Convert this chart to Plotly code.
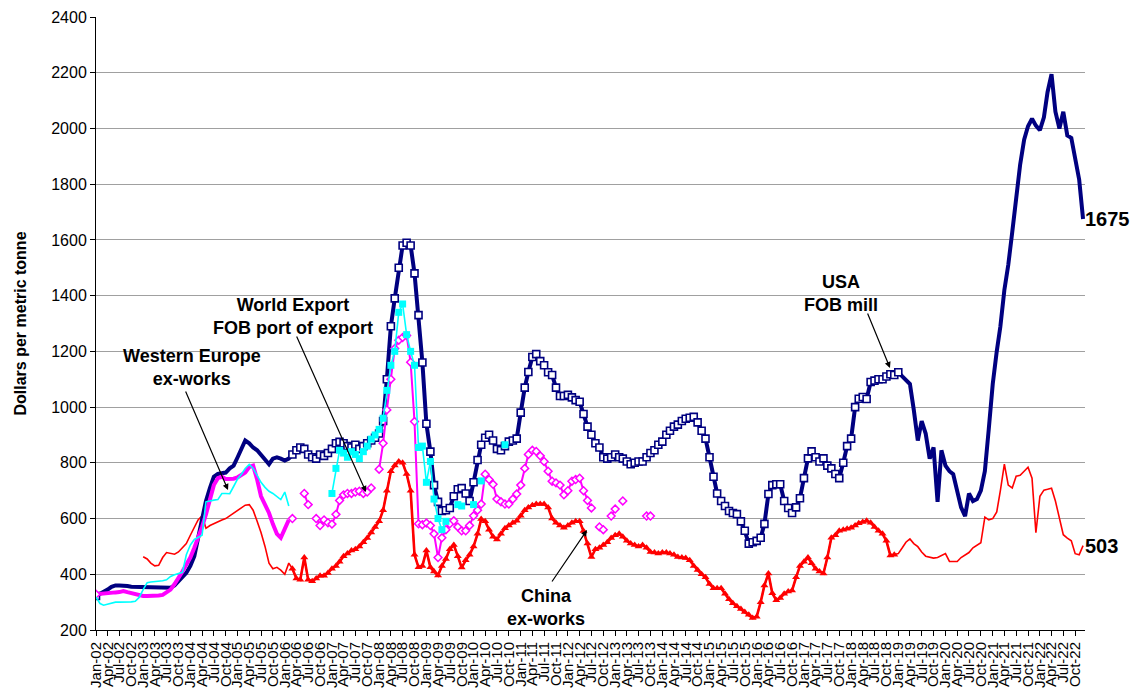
import pandas as pd
import plotly.graph_objects as go

# ---------------- data (monthly, Jan-2002 .. Dec-2022) ----------------
months = pd.date_range("2002-01-01", periods=252, freq="MS")

usa = [
    322, 330, 335, 345, 355, 360, 360, 360, 358, 355, 355, 355,      # 2002
    355, 355, 355, 355, 355, 355, 355, 352, 360, 375, 390, 405,      # 2003
    430, 465, 530, 600, 663, 710, 750, 760, 762, 765, 780, 790,      # 2004
    820, 850, 880, 870, 855, 845, 830, 810, 795, 815, 820, 815,      # 2005
    808, 815, 830, 845, 855, 850, 830, 820, 815, 830, 825, 835,      # 2006
    850, 870, 875, 870, 860, 855, 865, 850, 860, 870, 880, 890,      # 2007
    905, 950, 1100, 1290, 1390, 1500, 1580, 1590, 1580, 1480, 1330, 1160,  # 2008
    940, 840, 720, 660, 627, 630, 638, 680, 705, 709, 690, 663,      # 2009
    730, 810, 865, 890, 901, 880, 850, 845, 860, 876, 880, 887,      # 2010
    980, 1070, 1126, 1180, 1190, 1165, 1150, 1125, 1115, 1070, 1040, 1040,  # 2011
    1044, 1035, 1025, 1019, 975, 930, 901, 870, 855, 820, 815, 820,  # 2012
    830, 820, 815, 805, 795, 800, 805, 805, 820, 835, 845, 865,      # 2013
    876, 901, 915, 930, 937, 950, 958, 962, 965, 945, 915, 887,      # 2014
    820, 750, 690, 663, 645, 627, 620, 616, 590, 556, 510, 515,      # 2015
    520, 531, 581, 688, 720, 723, 723, 663, 638, 620, 640, 673,      # 2016
    745, 816, 841, 820, 805, 816, 790, 780, 760, 745, 800, 860,      # 2017
    887, 1000, 1030, 1036, 1029, 1090, 1095, 1100, 1100, 1110, 1118, 1115,  # 2018
    1125, 1110, 1097, 1083, 990, 880, 950, 905, 815, 855, 660, 845,  # 2019
    790, 770, 759, 700, 640, 609, 690, 663, 670, 700, 770, 920,      # 2020
    1083, 1200, 1289, 1420, 1510, 1628, 1760, 1870, 1960, 2008, 2035, 2010,  # 2021
    1994, 2040, 2130, 2195, 2060, 2000, 2060, 1975, 1966, 1898, 1816, 1675,  # 2022
]

china = [None] * 12 + [
    463, 455, 440, 430, 432, 460, 478, 475, 472, 480, 495, 510,      # 2003
    540, 570, 595, 610, 565, 575, 582, 590, 595, 600, 610, 620,      # 2004
    630, 640, 648, 650, 630, 590, 550, 500, 440, 420, 425, 415,      # 2005
    400, 440, 420, 385, 380, 460, 380, 375, 385, 395, 395, 405,      # 2006
    420, 430, 445, 465, 475, 485, 490, 500, 515, 530, 550, 570,      # 2007
    590, 630, 700, 770, 790, 805, 800, 760, 700, 470, 425, 430,      # 2008
    485, 425, 410, 396, 430, 455, 490, 505, 465, 424, 450, 470,      # 2009
    500, 545, 598, 590, 560, 535, 525, 545, 565, 575, 585, 592,      # 2010
    610, 630, 640, 648, 652, 652, 652, 640, 600, 585, 575, 567,      # 2011
    575, 585, 590, 590, 555, 510, 462, 490, 495, 505, 515, 530,      # 2012
    540, 545, 535, 520, 510, 505, 500, 505, 495, 480, 478, 475,      # 2013
    478, 478, 475, 470, 462, 460, 458, 450, 430, 415, 400, 389,      # 2014
    365, 350, 350, 350, 330, 310, 296, 285, 275, 265, 255, 243,      # 2015
    248, 300, 360, 403, 332, 307, 315, 330, 338, 342, 389, 430,      # 2016
    445, 460, 440, 420, 410, 403, 460, 531, 540, 556, 560, 563,      # 2017
    567, 575, 583, 588, 592, 585, 570, 556, 545, 520, 467, 470,      # 2018
    474, 495, 515, 527, 510, 499, 480, 465, 460, 458, 460, 468,      # 2019
    474, 446, 445, 446, 460, 470, 478, 495, 505, 513, 605, 595,      # 2020
    600, 624, 700, 795, 720, 710, 752, 755, 770, 784, 745, 549,      # 2021
    680, 702, 705, 709, 663, 595, 542, 530, 520, 474, 470, 503,      # 2022
]

N = None
world = [
    328, 330, 332, 333, 334, 335, 336, 340, 336, 332, 328, 325,      # 2002
    322, 322, 322, 323, 324, 326, 335, 345, 365, 385, 410, 435,      # 2003
    460, 495, 530, 570, 615, 665, 720, 745, 750, 742, 742, 743,      # 2004
    748, 755, 765, 785, 790, 740, 680, 650, 620, 580, 545, 531,      # 2005
    560, 595, 600, N, N, 690, 650, N, 600, 575, 595, 585,            # 2006
    580, 615, 665, 685, 690, 690, 695, 698, 690, 695, 710, N,        # 2007
    777, 870, 990, 1100, 1210, 1240, 1250, 1257, 1161, 948, 581, 578,  # 2008
    584, 575, 545, 460, 531, 560, 581, 592, 570, 556, 556, 575,      # 2009
    610, 630, 652, 759, 740, 723, 670, 660, 652, 652, 670, 688,      # 2010
    720, 780, 830, 845, 841, 825, 805, 770, 734, 728, 720, 685,      # 2011
    700, 734, 740, 745, 700, 665, 638, N, 570, 560, N, 609,          # 2012
    634, N, 663, N, N, N, N, N, 609, 609, N, N,                      # 2013
] + [None] * 108

weurope = [
    318, 295, 289, 292, 296, 300, 300, 300, 300, 301, 303, 317,      # 2002
    345, 370, 372, 373, 375, 377, 380, 392, 398, 403, 407, 470,      # 2003
    505, 525, 532, 540, 660, 664, 666, 668, 690, 690, 689, 715,      # 2004
    742, 760, 780, 794, 780, 755, 730, 712, 698, 690, 680, 668,      # 2005
    695, 645, N, N, N, N, N, N, N, N, N, N,                          # 2006
    690, 780, 845, 835, 820, 840, 830, 815, 840, 860, 885, 900,      # 2007
    920, 960, 1060, 1150, 1200, 1340, 1370, 1260, 1200, 1150, 855, 860,  # 2008
    730, 805, 670, 600, 560, 590, N, N, 650, 645, N, N,              # 2009
    650, N, 735, N, N, N, N, N, 865, N, N, N,                        # 2010
] + [None] * 144

# periods shown with point markers (month indices)
USA_MARK = (50, 204)
CHINA_MARK = (50, 203)
WORLD_THICK_END = 49
WEUR_THIN_END = 49


def seg(values, lo, hi, extra=()):
    return [v if (lo <= i <= hi or i in extra) else None for i, v in enumerate(values)]


NAVY = "#000080"
RED = "#FF0000"
MAGENTA = "#FF00FF"
CYAN = "#00FFFF"
FONT = "Liberation Sans, Arial, sans-serif"

fig = go.Figure()

# China
fig.add_trace(go.Scatter(x=months, y=china, mode="lines",
                         line=dict(color=RED, width=1.6), connectgaps=False))
fig.add_trace(go.Scatter(x=months, y=seg(china, *CHINA_MARK), mode="lines+markers",
                         line=dict(color=RED, width=2.6),
                         marker=dict(symbol="triangle-up", size=7, color=RED)))
# USA
fig.add_trace(go.Scatter(x=months, y=usa, mode="lines",
                         line=dict(color=NAVY, width=4)))
fig.add_trace(go.Scatter(x=months, y=seg(usa, *USA_MARK, extra=(0,)), mode="markers",
                         marker=dict(symbol="square", size=7, color="white",
                                     line=dict(color=NAVY, width=1.6))))
# World export
fig.add_trace(go.Scatter(x=months, y=seg(world, 0, WORLD_THICK_END), mode="lines",
                         line=dict(color=MAGENTA, width=4)))
fig.add_trace(go.Scatter(x=months, y=seg(world, WORLD_THICK_END + 1, 251, extra=(0,)),
                         mode="lines+markers", line=dict(color=MAGENTA, width=2),
                         marker=dict(symbol="diamond", size=6, color="white",
                                     line=dict(color=MAGENTA, width=1.5))))
# Western Europe
fig.add_trace(go.Scatter(x=months, y=seg(weurope, 0, WEUR_THIN_END), mode="lines",
                         line=dict(color=CYAN, width=1.6)))
fig.add_trace(go.Scatter(x=months, y=seg(weurope, WEUR_THIN_END + 1, 251),
                         mode="lines+markers", line=dict(color=CYAN, width=1.6),
                         marker=dict(symbol="square", size=7, color=CYAN)))

# ---------------- layout ----------------
# the page body adds an 8px offset; figure sized so that it fits the window
OFF = 8
W, H = 1138 - OFF, 690 - OFF
L, R, T, B = 96 - OFF, 53, 9, 60
PW, PH = W - L - R, H - T - B


def px(x):
    return (x - OFF - L) / PW


def py(y):
    return (H - B - (y - OFF)) / PH


annotations = []
labels = [
    ("Western Europe<br>ex-works", 192, 367),
    ("World Export<br>FOB port of export", 293, 316),
    ("China<br>ex-works", 546, 607),
    ("USA<br>FOB mill", 841, 293),
]
for txt, x, y in labels:
    annotations.append(dict(text=f"<b>{txt}</b>", x=px(x), y=py(y), xref="paper", yref="paper",
                            showarrow=False, xanchor="center", yanchor="middle",
                            font=dict(family=FONT, size=18, color="black")))

arrows = [((228, 490), (185, 390)), ((366, 492), (296, 335)),
          ((587, 530), (551, 583)), ((890, 368), (867, 312))]
for (hx, hy), (tx, ty) in arrows:
    annotations.append(dict(text="", x=px(hx), y=py(hy), xref="paper", yref="paper",
                            showarrow=True, ax=tx - hx, ay=ty - hy,
                            arrowhead=2, arrowsize=1, arrowwidth=1.2, arrowcolor="black"))

annotations.append(dict(text=f"<b>{usa[-1]}</b>", x=months[-1], y=usa[-1], xref="x", yref="y",
                        showarrow=False, xanchor="left", yanchor="middle", xshift=0,
                        font=dict(family=FONT, size=20, color="black")))
annotations.append(dict(text=f"<b>{china[-1]}</b>", x=months[-1], y=china[-1], xref="x", yref="y",
                        showarrow=False, xanchor="left", yanchor="middle", xshift=0,
                        font=dict(family=FONT, size=20, color="black")))

fig.update_layout(
    width=W, height=H,
    margin=dict(l=L, r=R, t=T, b=B, autoexpand=False),
    paper_bgcolor="white", plot_bgcolor="white",
    showlegend=False,
    font=dict(family=FONT, size=16, color="black"),
    annotations=annotations,
    xaxis=dict(
        type="date", automargin=False,
        range=["2002-01-01", "2022-12-16"],
        tick0="2002-01-01", dtick="M3", tickformat="%b-%y", tickangle=-90,
        ticks="outside", ticklen=5, tickcolor="black",
        showline=True, linecolor="black", linewidth=1,
        showgrid=False, zeroline=False,
        tickfont=dict(family=FONT, size=15, color="black"),
    ),
    yaxis=dict(
        automargin=False, ticklabeloverflow="allow",
        range=[200, 2400], dtick=200, tick0=200,
        ticks="outside", ticklen=5, tickcolor="black",
        showline=True, linecolor="black", linewidth=1,
        showgrid=True, gridcolor="#a0a0a0", gridwidth=1, zeroline=False,
        tickfont=dict(family=FONT, size=16, color="black"),
        title=dict(text="<b>Dollars per metric tonne</b>", standoff=20,
                   font=dict(family=FONT, size=16, color="black")),
    ),
)

fig.write_html("out.html")
